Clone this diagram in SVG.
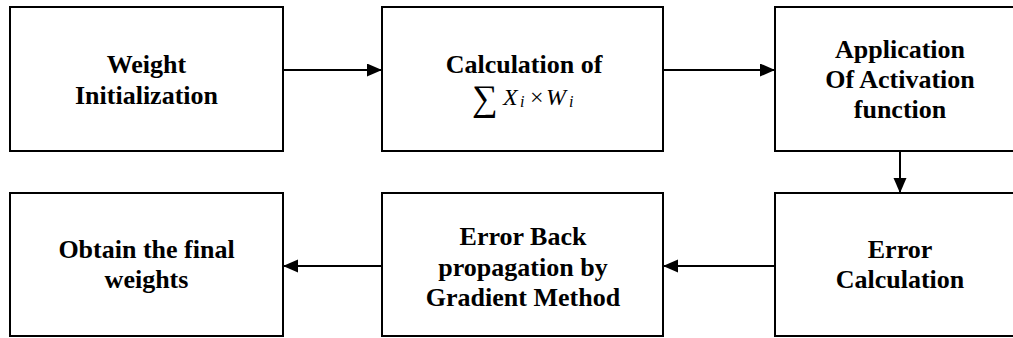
<svg xmlns="http://www.w3.org/2000/svg" width="1013" height="338" viewBox="0 0 1013 338">
<defs>
<style>
.box{fill:#fff;stroke:#000;stroke-width:2}
.lbl{font-family:"Liberation Serif","Times New Roman",serif;font-weight:bold;font-size:26px;fill:#000;text-anchor:middle}
.math{font-family:"Liberation Serif","Times New Roman",serif;font-style:italic;fill:#000}
.conn{stroke:#000;stroke-width:2;fill:none}
</style>
<marker id="ah" markerUnits="userSpaceOnUse" markerWidth="16" markerHeight="14" refX="15" refY="6.5" orient="auto">
<path d="M0,0 L15,6.5 L0,13 z" fill="#000"/>
</marker>
</defs>
<rect width="1013" height="338" fill="#fff"/>
<g id="n1">
<rect class="box" x="10" y="7" width="273" height="144"/>
<text class="lbl" x="146.5" y="73">Weight</text>
<text class="lbl" x="146.5" y="104">Initialization</text>
</g>
<g id="n2">
<rect class="box" x="382" y="7" width="281" height="144"/>
<text class="lbl" x="524" y="73">Calculation of</text>
<text font-family="Liberation Serif, serif" font-size="36" x="472" y="110">∑</text>
<text class="math" font-size="24" x="503" y="105">X</text>
<text class="math" font-size="16" x="520" y="107">i</text>
<text font-family="Liberation Serif, serif" font-size="24" x="530" y="105">×</text>
<text class="math" font-size="24" x="546" y="105">W</text>
<text class="math" font-size="16" x="569" y="107">i</text>
</g>
<g id="n3">
<rect class="box" x="775" y="7" width="250" height="144"/>
<text class="lbl" x="900" y="58">Application</text>
<text class="lbl" x="900" y="88">Of Activation</text>
<text class="lbl" x="900" y="118">function</text>
</g>
<g id="n4">
<rect class="box" x="10" y="193" width="273" height="143"/>
<text class="lbl" x="146.5" y="258">Obtain the final</text>
<text class="lbl" x="146.5" y="288">weights</text>
</g>
<g id="n5">
<rect class="box" x="382" y="193" width="281" height="143"/>
<text class="lbl" x="523" y="245">Error Back</text>
<text class="lbl" x="523" y="275.5">propagation by</text>
<text class="lbl" x="523" y="306">Gradient Method</text>
</g>
<g id="n6">
<rect class="box" x="775" y="193" width="250" height="143"/>
<text class="lbl" x="900" y="258">Error</text>
<text class="lbl" x="900" y="288">Calculation</text>
</g>
<g id="connectors">
<line class="conn" x1="283" y1="70" x2="382" y2="70" marker-end="url(#ah)"/>
<line class="conn" x1="663" y1="70" x2="775" y2="70" marker-end="url(#ah)"/>
<line class="conn" x1="900" y1="151" x2="900" y2="193" marker-end="url(#ah)"/>
<line class="conn" x1="775" y1="266" x2="663" y2="266" marker-end="url(#ah)"/>
<line class="conn" x1="382" y1="266" x2="283" y2="266" marker-end="url(#ah)"/>
</g>
</svg>
